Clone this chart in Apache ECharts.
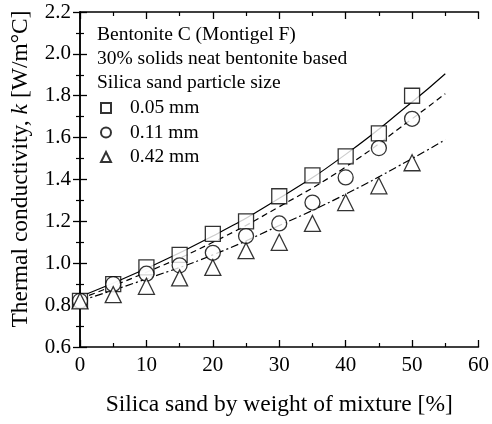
<!DOCTYPE html>
<html><head><meta charset="utf-8">
<script src="https://cdn.jsdelivr.net/npm/echarts@6/dist/echarts.min.js"></script>
<style>html,body{margin:0;padding:0;background:#fff}#c{width:492px;height:424px}</style>
</head><body><div id="c"></div>
<script>
// measured points
const xPts = [0, 5, 10, 15, 20, 25, 30, 35, 40, 45, 50];
const sq005 = [0.82, 0.90, 0.98, 1.04, 1.14, 1.20, 1.32, 1.42, 1.51, 1.62, 1.80];
const ci011 = [0.82, 0.90, 0.95, 0.99, 1.05, 1.13, 1.19, 1.29, 1.41, 1.55, 1.69];
const tr042 = [0.82, 0.85, 0.89, 0.93, 0.98, 1.06, 1.10, 1.19, 1.29, 1.37, 1.48];
// fitted curves
const xFit = [0, 10, 20, 30, 40, 50, 55];
const fit005 = [0.84, 0.975, 1.13, 1.31, 1.52, 1.77, 1.905];
const fit011 = [0.83, 0.957, 1.10, 1.27, 1.46, 1.69, 1.81];
const fit042 = [0.82, 0.925, 1.04, 1.18, 1.33, 1.50, 1.59];
const legendNames = ['0.05 mm', '0.11 mm', '0.42 mm'];
const titleLines = ['Bentonite C (Montigel F)', '30% solids neat bentonite based', 'Silica sand particle size'];
const xTitle = 'Silica sand by weight of mixture [%]';

const F = 'Liberation Serif';
const pair = (xs, ys) => xs.map((x, i) => [x, ys[i]]);
const ptStyle = {color: '#fff', borderColor: '#000', borderWidth: 1.3};
function scat(name, sym, data, size) {
  return {name, type: 'scatter', symbol: sym, symbolSize: size, data: pair(xPts, data),
    itemStyle: ptStyle, z: 5};
}
function fit(data, type) {
  return {type: 'line', data: pair(xFit, data), smooth: true, symbol: 'none', silent: true,
    lineStyle: {color: '#000', width: 1.2, type}, z: 3};
}
const baseAxis = {
  axisLine: {show: true, lineStyle: {color: '#000', width: 1.5}},
  axisTick: {show: true, inside: true, length: 7, lineStyle: {color: '#000', width: 1.3}},
  minorTick: {show: true, splitNumber: 2, length: 4, lineStyle: {color: '#000', width: 1.2}},
  splitLine: {show: false}
};
const chart = echarts.init(document.getElementById('c'));
chart.setOption({
  animation: false,
  backgroundColor: '#fff',
  title: {text: titleLines.join('\n'), left: 97, top: 23, padding: 0,
    textStyle: {fontFamily: F, fontSize: 19.5, fontWeight: 'normal', color: '#000', lineHeight: 24}},
  legend: {data: legendNames, orient: 'vertical', left: 100, top: 98, itemGap: 4.5, padding: 0,
    itemWidth: 10, itemHeight: 10,
    textStyle: {fontFamily: F, fontSize: 19.5, lineHeight: 20, color: '#000', padding: [0, 0, 0, 14]}},
  graphic: [{
    type: 'text', x: 21, y: 169, rotation: Math.PI / 2, silent: true,
    style: {text: 'Thermal conductivity, {i|k} [W/m°C]', align: 'center', verticalAlign: 'middle',
      fontFamily: F, fontSize: 23.5, fill: '#000',
      rich: {i: {fontFamily: F, fontSize: 23.5, fontStyle: 'italic', fill: '#000'}}}
  }],
  grid: {left: 80, right: 12, top: 12, bottom: 77},
  xAxis: [
    Object.assign({}, baseAxis, {type: 'value', min: 0, max: 60, interval: 10, position: 'bottom',
      name: xTitle, nameLocation: 'middle', nameGap: 46,
      nameTextStyle: {fontFamily: F, fontSize: 23.5, color: '#000'},
      axisLabel: {fontFamily: F, fontSize: 21, color: '#000', margin: 8}}),
    Object.assign({}, baseAxis, {type: 'value', min: 0, max: 60, interval: 10, position: 'top',
      axisLabel: {show: false}})
  ],
  yAxis: [
    Object.assign({}, baseAxis, {type: 'value', min: 0.6, max: 2.2, interval: 0.2, position: 'left',
      axisLabel: {fontFamily: F, fontSize: 21, color: '#000', margin: 9,
        formatter: v => v.toFixed(1)}}),
    Object.assign({}, baseAxis, {type: 'value', min: 0.6, max: 2.2, interval: 0.2, position: 'right',
      axisLabel: {show: false}})
  ],
  series: [
    fit(fit005, 'solid'),
    fit(fit011, [6, 4]),
    fit(fit042, [8, 3, 2, 3]),
    scat(legendNames[0], 'rect', sq005, 15),
    scat(legendNames[1], 'circle', ci011, 15),
    scat(legendNames[2], 'triangle', tr042, 16)
  ]
});
</script></body></html>
